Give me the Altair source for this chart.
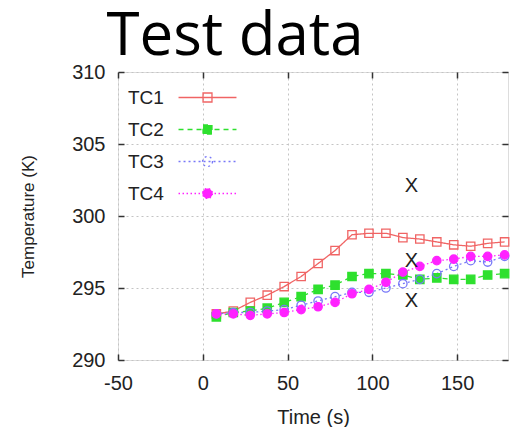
import altair as alt
import pandas as pd

# ---- data ----
time_s = [8, 18, 28, 38, 48, 58, 68, 78, 88, 98, 108, 118, 128, 138, 148, 158, 168, 178]
tc1 = [293.2, 293.4, 294.0, 294.5, 295.1, 295.8, 296.7, 297.6, 298.7, 298.8, 298.8, 298.5, 298.4, 298.2, 298.0, 297.9, 298.1, 298.2]
tc2 = [293.0, 293.3, 293.4, 293.6, 294.0, 294.4, 294.9, 295.2, 295.8, 296.0, 296.0, 295.9, 295.6, 295.7, 295.6, 295.6, 295.9, 296.0]
tc3 = [293.2, 293.3, 293.3, 293.4, 293.5, 293.8, 294.1, 294.4, 294.7, 294.7, 295.0, 295.3, 295.6, 296.0, 296.5, 296.9, 296.8, 297.2]
tc4 = [293.2, 293.2, 293.1, 293.2, 293.3, 293.5, 293.7, 294.0, 294.6, 294.9, 295.4, 296.1, 296.5, 296.9, 297.0, 297.2, 297.2, 297.3]

series_names = ["TC1", "TC2", "TC3", "TC4"]
series_colors = ["#f06464", "#2ee02e", "#7878f8", "#ff22ff"]
series_fills = ["transparent", "#2ee02e", "transparent", "#ff22ff"]
series_shapes = ["square", "square", "circle", "circle"]
series_dashes = [[1, 0], [5, 4], [2, 3], [1.5, 2.5]]
# legend glyphs: a line sample with the series marker in its middle
legend_glyphs = [
    "M-4.14,0H4.14M-0.64,-0.64H0.64V0.64H-0.64Z",
    "M-4.14,0H4.14M-0.64,-0.64H0.64V0.64H-0.64Z",
    "M-4.14,0H4.14M0.71,0A0.71,0.71 0 1,1 -0.71,0A0.71,0.71 0 1,1 0.71,0Z",
    "M-4.14,0H4.14M0.71,0A0.71,0.71 0 1,1 -0.71,0A0.71,0.71 0 1,1 0.71,0Z",
]

chart_title = "Test data"

x_mark_time = [123, 123, 123]
x_mark_temp = [302.1, 296.9, 294.1]
x_mark_text = ["X", "X", "X"]

x_ticks = [-50, 0, 50, 100, 150]
y_ticks = [290, 295, 300, 305, 310]

rows = []
for name, vals in zip(series_names, [tc1, tc2, tc3, tc4]):
    for t, v in zip(time_s, vals):
        rows.append({"time": t, "temp": v, "series": name})
df = pd.DataFrame(rows)
df_x = pd.DataFrame({"time": x_mark_time, "temp": x_mark_temp, "label": x_mark_text})

FONT = "Liberation Sans"
x_scale = alt.Scale(domain=[-50, 180], nice=False, zero=False)
y_scale = alt.Scale(domain=[290, 310], nice=False, zero=False)
color_scale = alt.Scale(domain=series_names, range=series_colors)
dash_scale = alt.Scale(domain=series_names, range=series_dashes)
shape_scale = alt.Scale(domain=series_names, range=series_shapes)
glyph_scale = alt.Scale(domain=series_names, range=legend_glyphs)
fill_scale = alt.Scale(domain=series_names, range=series_fills)

tick_axis = dict(
    tickSize=6, tickColor="#333", tickWidth=1.5, domain=False, grid=False, offset=-6,
    labelFont=FONT, titleFont=FONT, labelColor="#222", titleColor="#222",
    titleFontWeight="normal", labelFlush=False, labelOverlap=False,
    labelExpr="'' + datum.value",
)
grid_axis = dict(ticks=False, labels=False, domain=False, title=None, grid=True,
                 gridDash=[2, 3], gridColor="#c4c4c4", gridWidth=1)

x_bottom = alt.Axis(values=x_ticks, title="Time (s)", labelFontSize=20, titleFontSize=20,
                    labelPadding=13, titlePadding=14, **tick_axis)
y_left = alt.Axis(values=y_ticks, title="Temperature (K)", labelFontSize=20, titleFontSize=17,
                  labelPadding=13, titlePadding=34, **tick_axis)
x_grid = alt.Axis(values=x_ticks, **grid_axis)
y_grid = alt.Axis(values=y_ticks, **grid_axis)
# top axis carries the mirrored ticks and the big chart heading
x_top = alt.Axis(values=x_ticks, orient="top", title=chart_title, labels=False,
                 titleFont="Open Sans", titleFontSize=60, titleColor="black",
                 titleFontWeight="normal", titleAlign="left", titleBaseline="alphabetic",
                 titleAngle=0, titleX=-12, titleY=-24,
                 **{k: v for k, v in tick_axis.items()
                    if k not in ("titleFont", "titleColor", "titleFontWeight")})
y_right = alt.Axis(values=y_ticks, orient="right", title=None, labels=False, **tick_axis)

base = alt.Chart(df)

lines = base.mark_line(strokeWidth=1.3).encode(
    x=alt.X("time:Q", scale=x_scale, axis=x_bottom),
    y=alt.Y("temp:Q", scale=y_scale, axis=y_left),
    color=alt.Color("series:N", scale=color_scale, legend=None),
    strokeDash=alt.StrokeDash("series:N", scale=dash_scale, legend=None),
)

points = base.mark_point(size=70, strokeWidth=1.3, opacity=1).encode(
    x=alt.X("time:Q", scale=x_scale, axis=x_grid),
    y=alt.Y("temp:Q", scale=y_scale, axis=y_grid),
    shape=alt.Shape("series:N", scale=shape_scale, legend=None),
    stroke=alt.Stroke("series:N", scale=color_scale, legend=None),
    fill=alt.Fill("series:N", scale=fill_scale, legend=None),
)

xmarks = alt.Chart(df_x).mark_text(font=FONT, fontSize=20, color="#222").encode(
    x=alt.X("time:Q", scale=x_scale, axis=x_top),
    y=alt.Y("temp:Q", scale=y_scale, axis=y_right),
    text="label:N",
)

leg_common = dict(orient="none", title=None, padding=0, labelFont=FONT, labelFontSize=19,
                  labelColor="#222", rowPadding=12, legendY=16)

# legend 1: labels only (symbols hidden)
label_legend = alt.Legend(legendX=-9, symbolSize=1, symbolStrokeWidth=0, symbolOpacity=0,
                          labelOffset=0, **leg_common)
leg_labels = base.transform_filter("false").mark_point(opacity=1).encode(
    x=alt.X("time:Q", scale=x_scale, axis=None),
    y=alt.Y("temp:Q", scale=y_scale, axis=None),
    color=alt.Color("series:N", scale=color_scale, legend=label_legend),
)

# legend 2: line + marker glyphs (labels hidden)
glyph_legend = alt.Legend(legendX=80, symbolSize=196, symbolStrokeWidth=1.3, labelOpacity=0,
                          **leg_common)
leg_glyphs = base.transform_filter("false").mark_point(size=196, strokeWidth=1.3, opacity=1).encode(
    x=alt.X("time:Q", scale=x_scale, axis=None),
    y=alt.Y("temp:Q", scale=y_scale, axis=None),
    shape=alt.Shape("series:N", scale=glyph_scale, legend=glyph_legend),
    stroke=alt.Stroke("series:N", scale=color_scale, legend=glyph_legend),
    fill=alt.Fill("series:N", scale=fill_scale, legend=glyph_legend),
    strokeDash=alt.StrokeDash("series:N", scale=dash_scale, legend=glyph_legend),
)

chart = alt.layer(lines, points, xmarks, leg_labels, leg_glyphs).resolve_axis(
    x="independent", y="independent"
).resolve_scale(
    color="independent", shape="independent", stroke="independent",
    fill="independent", strokeDash="independent"
).properties(
    width=390, height=288,
    autosize=alt.AutoSizeParams(type="none"),
    padding={"left": 118, "top": 72, "right": 11, "bottom": 67},
).configure_view(stroke="#333", strokeWidth=2).configure(background="white")

chart.save("out.html", embed_options={"renderer": "svg", "actions": False})
